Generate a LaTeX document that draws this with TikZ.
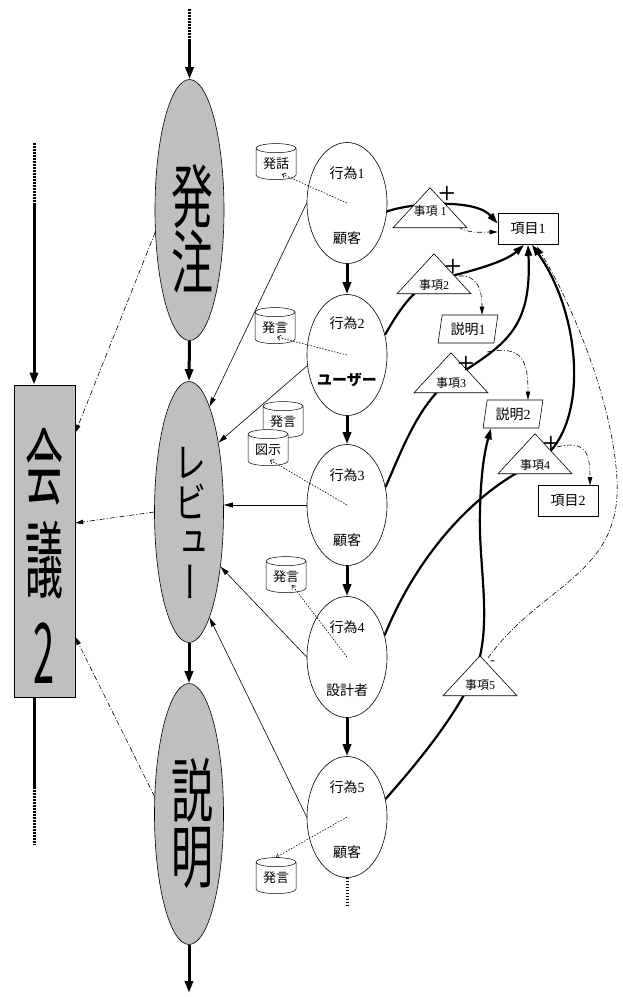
\documentclass[tikz,border=0pt]{standalone}
\usepackage{fontspec}
\usepackage{graphicx}
\setmainfont{Liberation Serif}
\newfontfamily\jp{Noto Sans CJK JP}
\newfontfamily\jpv[RawFeature=+vert]{Noto Sans CJK JP}
\usetikzlibrary{shapes.geometric,arrows.meta,calc,backgrounds}
\definecolor{gbg}{RGB}{191,191,191}
\newcommand\vstack[3]{\scalebox{1}[#1]{\vbox{\baselineskip=#2pt\lineskiplimit=-100pt\lineskip=0pt\halign{\hfil##\hfil\cr#3\crcr}}}}
\begin{document}
\begin{tikzpicture}[x=1pt,y=-1pt,
 bigell/.style={ellipse,draw,fill=gbg,line width=0.6pt,minimum width=69pt,minimum height=261pt,inner sep=0pt},
 bigtxt/.style={inner sep=0pt},
 act/.style={ellipse,draw,line width=0.6pt,minimum width=80pt,minimum height=121pt,inner sep=0pt},
 albl/.style={inner sep=0pt,font=\fontsize{14}{16}\selectfont},
 cyl/.style={cylinder,shape border rotate=90,draw,fill=white,line width=0.5pt,shape aspect=0.35,minimum width=40pt,minimum height=36pt,inner sep=0pt,font=\jp\fontsize{13}{14}\selectfont},
 tri/.style={isosceles triangle,shape border rotate=90,isosceles triangle stretches,draw,fill=white,line width=0.6pt,minimum width=74pt,minimum height=40pt,inner sep=0pt},
 tlbl/.style={inner sep=0pt,font=\fontsize{12}{13}\selectfont},
 box/.style={rectangle,draw,fill=white,line width=0.6pt,minimum width=60pt,minimum height=31pt,inner sep=0pt,font=\fontsize{14}{16}\selectfont},
 para/.style={trapezium,trapezium stretches=true,trapezium left angle=78,trapezium right angle=102,draw,fill=white,line width=0.6pt,minimum width=60pt,minimum height=28pt,inner sep=0pt,font=\fontsize{14}{16}\selectfont},
 flow/.style={line width=3pt,-{Triangle[length=12pt,width=8pt]}},
 linka/.style={line width=2.2pt,-{Triangle[length=11pt,width=7pt]}},
 rel/.style={line width=0.6pt,-{Triangle[length=9pt,width=5pt]}},
 dd/.style={line width=0.6pt,dash pattern=on 5pt off 2pt on 1pt off 2pt,-{Triangle[length=8pt,width=4.5pt]}},
 dotl/.style={line width=0.6pt,dash pattern=on 1.5pt off 1.5pt,-{Straight Barb[length=3pt,width=5pt]}},
 bigdot/.style={line width=3pt,dash pattern=on 1.5pt off 1.5pt},
 sign/.style={inner sep=0pt,font=\sffamily\bfseries\fontsize{20}{20}\selectfont},
 msign/.style={inner sep=0pt,font=\sffamily\bfseries\fontsize{14}{14}\selectfont}
]
\useasboundingbox (0,0) rectangle (623,997);
% big process ellipses
\node[bigell] (hatchu) at (189.5,210) {};
\node[bigell] (review) at (189,512) {};
\node[bigell] (setsu) at (189,814) {};
\node[bigtxt,font={\jpv\fontsize{42}{42}\selectfont}] (hatchuT) at (192,229) {\vstack{1.65}{40}{発\cr 注}};
\node[bigtxt,font={\jpv\fontsize{32}{32}\selectfont}] (reviewT) at (190,523) {\vstack{1.33}{30}{レ\cr ビ\cr ュ\cr ー}};
\node[bigtxt,font={\jpv\fontsize{42}{42}\selectfont}] (setsuT) at (192,823) {\vstack{1.65}{40}{説\cr 明}};
% meeting box
\node[draw,fill=gbg,line width=0.6pt,minimum width=61pt,minimum height=312pt,inner sep=0pt] (kaigi) at (44.5,541) {};
\node[bigtxt,font={\jpv\fontsize{38}{38}\selectfont}] (kaigiT) at (44.5,556) {\vstack{2.2}{42}{会\cr 議\cr 2}};
% actions
\node[act] (a1) at (347,203) {};
\node[act] (a2) at (347,355) {};
\node[act] (a3) at (347,505) {};
\node[act] (a4) at (347,657) {};
\node[act] (a5) at (347,817) {};
\node[albl] (a1t) at ($(a1)+(0,-30)$) {{\jp 行為}1};
\node[albl] (a1b) at ($(a1)+(0,35)$) {\jp 顧客};
\node[albl] (a2t) at ($(a2)+(0,-32)$) {{\jp 行為}2};
\node[albl,font=\jp\bfseries\fontsize{15}{17}\selectfont] (a2b) at ($(a2)+(0,25)$) {ユーザー};
\node[albl] (a3t) at ($(a3)+(0,-30)$) {{\jp 行為}3};
\node[albl] (a3b) at ($(a3)+(0,35)$) {\jp 顧客};
\node[albl] (a4t) at ($(a4)+(0,-30)$) {{\jp 行為}4};
\node[albl] (a4b) at ($(a4)+(0,33)$) {\jp 設計者};
\node[albl] (a5t) at ($(a5)+(0,-30)$) {{\jp 行為}5};
\node[albl] (a5b) at ($(a5)+(0,35)$) {\jp 顧客};
% cylinders
\node[cyl] (c1) at (276,164) {発話};
\node[cyl] (c2) at (275,328) {発言};
\node[cyl] (c3) at (283,422) {発言};
\node[cyl] (c4) at (268,450) {図示};
\node[cyl] (c5) at (286,577) {発言};
\node[cyl] (c6) at (276,878) {発言};
% boxes
\node[box] (k1) at (528,229) {{\jp 項目}1};
\node[box] (k2) at (568,501) {{\jp 項目}2};
\node[para] (s1) at (468,329) {{\jp 説明}1};
\node[para] (s2) at (513,414) {{\jp 説明}2};
% triangles
\node[tri,anchor=apex] (t1) at (430,187) {};
\node[tri,anchor=apex] (t2) at (434,253) {};
\node[tri,anchor=apex] (t3) at (451,352) {};
\node[tri,anchor=apex] (t4) at (535,433) {};
\node[tri,anchor=apex] (t5) at (480,655) {};
\node[tlbl] (t1l) at ($(t1.apex)+(0,24)$) {{\jp 事項} 1};
\node[tlbl] (t2l) at ($(t2.apex)+(0,32)$) {{\jp 事項}2};
\node[tlbl] (t3l) at ($(t3.apex)+(0,31)$) {{\jp 事項}3};
\node[tlbl] (t4l) at ($(t4.apex)+(0,32)$) {{\jp 事項}4};
\node[tlbl] (t5l) at ($(t5.apex)+(0,30)$) {{\jp 事項}5};
% signs
\node[sign] (p1) at (447,193) {+};
\node[sign] (p2) at (453,266) {+};
\node[sign] (p3) at (466,363) {+};
\node[sign] (p4) at (551,443) {+};
\node[msign] (m5) at (493,663) {-};
% free ends
\coordinate (top0) at (189.5,9);
\coordinate (top1) at (189.5,39);
\coordinate (bot0) at (189,993);
\coordinate (kt0) at (34,143);
\coordinate (kt1) at (34,203);
\coordinate (kb0) at (34,787);
\coordinate (kb1) at (34,845);
\coordinate (aend) at (347,905);
\begin{scope}[on background layer]
% thick relation curves
\draw[linka] (a1.-12) .. controls (410,203) and (475,198) .. (k1.170);
\draw[linka] (a2.28) .. controls (398,312) and (412,290) .. (434,280) .. controls (470,272) and (505,262) .. ($(k1.south)+(-4,0)$);
\draw[linka] (a3.25) .. controls (402,450) and (418,405) .. (450,380) .. controls (505,345) and (532,330) .. (k1.south);
\draw[linka] (a4.30) .. controls (415,560) and (470,495) .. (530,466) .. controls (590,440) and (585,320) .. ($(k1.south)+(4,0)$);
\draw[linka] (a5.25) .. controls (420,760) and (452,720) .. (472,680) .. controls (495,630) and (478,570) .. (480,510) .. controls (481,470) and (485,450) .. ($(s2.south)+(-22,0)$);
% dash-dot curves
\draw[dd] ($(t1.apex)+(28,40)$) .. controls (470,234) and (480,232) .. ($(k1.west)+(0,3)$);
\draw[dd] ($(t2.apex)+(25,23)$) .. controls (478,275) and (482,290) .. ($(s1.north)+(14,0)$);
\draw[dd] ($(t3.apex)+(36,0)$) .. controls (522,345) and (528,360) .. ($(s2.north)+(15,0)$);
\draw[dd] ($(t4.apex)+(22,14)$) .. controls (585,440) and (590,452) .. ($(k2.north)+(22,0)$);
\draw[dd] ($(t5.apex)+(8,3)$) .. controls (540,585) and (622,575) .. (617,480) .. controls (613,400) and (570,300) .. ($(k1.south)+(9,2)$);
\end{scope}
% main flow
\draw[bigdot] (top0) -- (top1);
\draw[flow] (top1) -- (hatchu.north);
\draw[flow] (hatchu.south) -- (review.north);
\draw[flow] (review.south) -- (setsu.north);
\draw[flow] (setsu.south) -- (bot0);
\draw[bigdot] (kt0) -- (kt1);
\draw[flow] (kt1) -- (kt1 |- kaigi.north);
\draw[line width=3pt] (kaigi.south -| kb0) -- (kb0);
\draw[bigdot] (kb0) -- (kb1);
% to meeting
\draw[dd] (hatchu.213) -- ($(kaigi.north east)+(0,48)$);
\draw[dd] (review.west) -- ($(kaigi.east)+(0,-18)$);
\draw[dd] (setsu.153) -- ($(kaigi.east)+(0,96)$);
% action flow
\draw[flow] (a1.south) -- (a2.north);
\draw[flow] (a2.south) -- (a3.north);
\draw[flow] (a3.south) -- (a4.north);
\draw[flow] (a4.south) -- (a5.north);
\draw[bigdot] (a5.south) -- (aend);
% actions to review
\draw[rel] (a1.west) -- (review.79);
\draw[rel] (a2.195) -- (review.67);
\draw[rel] (a3.west) -- (a3.west -| review.east);
\draw[rel] (a4.west) -- (review.-60);
\draw[rel] (a5.west) -- (review.-79);
% utterance links
\draw[dotl] (a1.center) -- ($(c1)+(6,10)$);
\draw[dotl] (a2.center) -- ($(c2)+(2,9)$);
\draw[dotl] (a3.center) -- ($(c4)+(2,10)$);
\draw[dotl] (a4.center) -- ($(c5)+(6,8)$);
\draw[dotl] (a5.center) -- (c6.north);
\end{tikzpicture}
\end{document}
